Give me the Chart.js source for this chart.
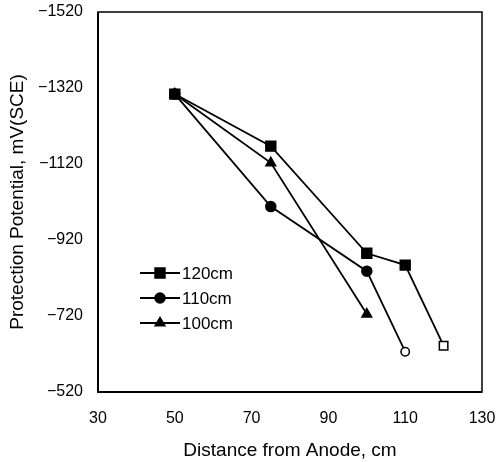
<!DOCTYPE html>
<html>
<head>
<meta charset="utf-8">
<script src="https://cdn.jsdelivr.net/npm/chart.js@4.4.0/dist/chart.umd.min.js"></script>
<style>
  html, body { margin: 0; padding: 0; background: #fff; }
  #wrap { width: 498px; height: 462px; }
</style>
</head>
<body>
<div id="wrap"><canvas id="chart" width="498" height="462"></canvas></div>
<script>
// distances from anode (cm)
const dist120 = [50, 75, 100, 110, 120];
const dist110 = [50, 75, 100, 110];
const dist100 = [50, 75, 100];
// protection potential, mV(SCE)
const pot120 = [-1304, -1167, -885, -854, -642];
const pot110 = [-1304, -1008, -838, -626];
const pot100 = [-1304, -1123, -725];
const seriesNames = ['120cm', '110cm', '100cm'];
const xTicks = [30, 50, 70, 90, 110, 130];
const yTicks = [-1520, -1320, -1120, -920, -720, -520];

const FONT = 'Liberation Sans, Arial, sans-serif';

function pts(xs, ys) {
  return xs.map((x, i) => ({ x: x, y: ys[i] }));
}
// last point of the 120 and 110 series is drawn open
function perPoint(n, openLast, normal, open) {
  return Array.from({ length: n }, (_, i) => (openLast && i === n - 1) ? open : normal);
}

const frame = {
  id: 'frame',
  afterDraw(chart) {
    const a = chart.chartArea, ctx = chart.ctx;
    ctx.save();
    ctx.strokeStyle = '#000';
    ctx.lineWidth = 1.5;
    ctx.strokeRect(a.left, a.top, a.right - a.left, a.bottom - a.top);
    ctx.lineWidth = 2;
    ctx.beginPath();
    ctx.moveTo(a.left, a.top);
    ctx.lineTo(a.left, a.bottom);
    ctx.lineTo(a.right, a.bottom);
    ctx.stroke();
    ctx.restore();
  }
};

const insideLegend = {
  id: 'insideLegend',
  afterDraw(chart) {
    const a = chart.chartArea, ctx = chart.ctx;
    ctx.save();
    chart.data.datasets.forEach((ds, i) => {
      const y = a.top + 261 + i * 25;
      const x0 = a.left + 42;
      ctx.strokeStyle = '#000';
      ctx.lineWidth = 1.8;
      ctx.beginPath();
      ctx.moveTo(x0, y);
      ctx.lineTo(x0 + 40, y);
      ctx.stroke();
      ctx.fillStyle = '#000';
      ctx.lineWidth = 1.5;
      Chart.helpers.drawPoint(ctx, { pointStyle: ds.pointStyle, radius: ds.pointRadius[0], borderWidth: 1.5 }, x0 + 20, y);
      ctx.fill();
      ctx.font = '17px ' + FONT;
      ctx.textBaseline = 'middle';
      ctx.textAlign = 'left';
      ctx.fillText(seriesNames[i], x0 + 42, y + 1);
    });
    ctx.restore();
  }
};

function lineSet(label, xs, ys, style, r, rOpen) {
  const openLast = style !== 'triangle';
  return {
    label: label,
    data: pts(xs, ys),
    borderColor: '#000',
    borderWidth: 1.8,
    pointStyle: style,
    pointRadius: perPoint(xs.length, openLast, r, rOpen),
    pointBorderWidth: 1.5,
    pointBorderColor: '#000',
    pointBackgroundColor: perPoint(xs.length, openLast, '#000', '#fff'),
    fill: false,
    tension: 0
  };
}

new Chart(document.getElementById('chart').getContext('2d'), {
  type: 'line',
  data: {
    datasets: [
      lineSet(seriesNames[0], dist120, pot120, 'rect', 7, 6),
      lineSet(seriesNames[1], dist110, pot110, 'circle', 5, 4.2),
      lineSet(seriesNames[2], dist100, pot100, 'triangle', 5.6, 5.6)
    ]
  },
  options: {
    responsive: false,
    animation: false,
    layout: { padding: { top: 12, right: 16, left: 0, bottom: 0 } },
    plugins: { legend: { display: false }, tooltip: { enabled: false } },
    scales: {
      x: {
        type: 'linear',
        min: 30, max: 130,
        afterBuildTicks(axis) { axis.ticks = xTicks.map(v => ({ value: v })); },
        afterFit(axis) { axis.height = 70; axis.paddingLeft = 0; axis.paddingRight = 0; },
        grid: { display: false, drawTicks: false },
        border: { display: false },
        ticks: { color: '#000', font: { family: FONT, size: 16 }, padding: 17, maxRotation: 0 },
        title: { display: true, text: 'Distance from Anode, cm', color: '#000', font: { family: FONT, size: 19 }, padding: { top: 4, bottom: 0 } }
      },
      y: {
        type: 'linear',
        reverse: true,
        min: -1520, max: -520,
        afterBuildTicks(axis) { axis.ticks = yTicks.map(v => ({ value: v })); },
        afterFit(axis) { axis.width = 98; axis.paddingTop = 0; axis.paddingBottom = 0; },
        grid: { display: false, drawTicks: false },
        border: { display: false },
        ticks: {
          color: '#000', font: { family: FONT, size: 16 }, padding: 15,
          callback: v => String(v).replace('-', '\u2212')
        },
        title: { display: true, text: 'Protection Potential, mV(SCE)', color: '#000', font: { family: FONT, size: 19 }, padding: { top: 6, bottom: 0 } }
      }
    }
  },
  plugins: [frame, insideLegend]
});
</script>
</body>
</html>
